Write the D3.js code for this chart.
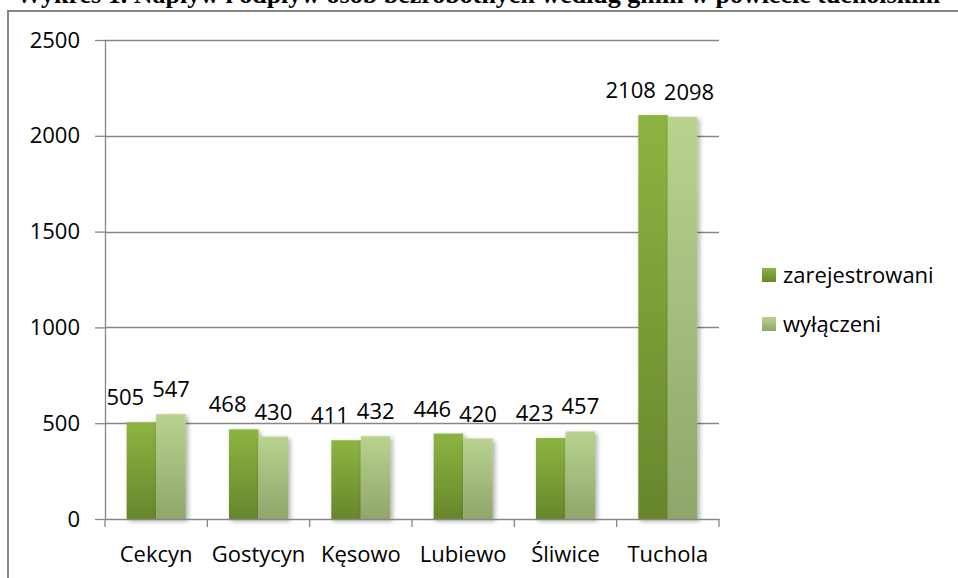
<!DOCTYPE html>
<html>
<head>
<meta charset="utf-8">
<script src="https://cdn.jsdelivr.net/npm/d3@7"></script>
<style>
  body { margin: 0; background: #fff; }
  svg { display: block; }
  text { font-family: "Open Sans", sans-serif; fill: #000; }
</style>
</head>
<body>
<div id="chart"></div>
<script>
const titleText = "Wykres 1. Napływ i odpływ osób bezrobotnych według gmin w powiecie tucholskim";
const gminy = ["Cekcyn", "Gostycyn", "Kęsowo", "Lubiewo", "Śliwice", "Tuchola"];
const series = ["zarejestrowani", "wyłączeni"];
const zarejestrowani = [505, 468, 411, 446, 423, 2108];
const wylaczeni = [547, 430, 432, 420, 457, 2098];
const yTicks = [0, 500, 1000, 1500, 2000, 2500];

const w = 958;
const h = 578;

const rows = gminy.map((g, i) => ({
  gmina: g,
  values: [zarejestrowani[i], wylaczeni[i]]
}));

const svg = d3
  .select("#chart")
  .append("svg")
  .attr("width", w)
  .attr("height", h);

const defs = svg.append("defs");

const grads = [
  ["g0", "#8db441", "#67862c"],
  ["g1", "#b9d38e", "#90a56b"]
];
grads.forEach(([id, top, bottom]) => {
  const lg = defs.append("linearGradient")
    .attr("id", id)
    .attr("x1", 0).attr("y1", 0).attr("x2", 0).attr("y2", 1);
  lg.append("stop").attr("offset", "0%").attr("stop-color", top);
  lg.append("stop").attr("offset", "100%").attr("stop-color", bottom);
});

defs.append("filter")
  .attr("id", "shadow")
  .attr("x", "-20%").attr("y", "-10%")
  .attr("width", "160%").attr("height", "130%")
  .append("feDropShadow")
  .attr("dx", 2).attr("dy", 2)
  .attr("stdDeviation", 2.5)
  .attr("flood-color", "#000")
  .attr("flood-opacity", 0.35);

// title, cut by the top edge as in the source picture
svg.append("text")
  .attr("x", 16)
  .attr("y", 3)
  .style("font-family", "'Liberation Serif', serif")
  .style("font-weight", "bold")
  .style("font-size", "26px")
  .text(titleText);

// outer frame
svg.append("rect")
  .attr("x", 8)
  .attr("y", 11)
  .attr("width", 1000)
  .attr("height", 600)
  .attr("fill", "none")
  .attr("stroke", "#868686")
  .attr("stroke-width", 2);

const y = d3.scaleLinear([0, 2500], [519, 40]);
const x = d3.scaleBand(gminy, [105, 719]);
const x1 = d3.scaleBand(series, [0, x.bandwidth()]).paddingOuter(0.734);

// gridlines
svg.append("g")
  .selectAll("line")
  .data(yTicks.filter((t) => t > 0))
  .join("line")
  .attr("x1", 105)
  .attr("x2", 719)
  .attr("y1", (d) => Math.round(y(d)) + 0.5)
  .attr("y2", (d) => Math.round(y(d)) + 0.5)
  .attr("stroke", "#868686")
  .attr("stroke-width", 1.3);

// y axis
const gy = svg.append("g")
  .attr("transform", "translate(105,0)")
  .call(d3.axisLeft(y).tickValues(yTicks).tickFormat(d3.format("d"))
    .tickSize(10).tickSizeOuter(0).tickPadding(15));
gy.select(".domain").attr("stroke", "#868686").attr("stroke-width", 1.3);
gy.selectAll(".tick line").attr("stroke", "#868686").attr("stroke-width", 1.3);
gy.selectAll(".tick text").style("font-size", "22px").style("font-family", "'Open Sans', sans-serif");

// bars
const groups = svg.append("g")
  .selectAll("g")
  .data(rows)
  .join("g")
  .attr("transform", (d) => `translate(${x(d.gmina)},0)`);

groups.selectAll("rect")
  .data((d) => d.values.map((v, i) => ({ key: series[i], i, v })))
  .join("rect")
  .attr("x", (d) => x1(d.key))
  .attr("y", (d) => y(d.v))
  .attr("width", x1.bandwidth())
  .attr("height", (d) => y(0) - y(d.v))
  .attr("fill", (d) => `url(#g${d.i})`)
  .attr("filter", "url(#shadow)");

// value labels
groups.selectAll("text.val")
  .data((d) => d.values.map((v, i) => ({ key: series[i], i, v })))
  .join("text")
  .attr("class", "val")
  .attr("x", (d) => d.i === 0 ? x1(d.key) + x1.bandwidth() - 12 : x1(d.key) - 4)
  .attr("y", (d) => y(d.v) - 17)
  .attr("text-anchor", (d) => d.i === 0 ? "end" : "start")
  .style("font-size", "22px")
  .text((d) => d.v);

// x axis
const gx = svg.append("g")
  .attr("transform", "translate(0,519)")
  .call(d3.axisBottom(x).tickSize(0).tickPadding(27));
gx.select(".domain").attr("stroke", "#868686").attr("stroke-width", 1.3);
gx.selectAll(".tick text").style("font-size", "22px").style("font-family", "'Open Sans', sans-serif");

const edges = gminy.map((g) => x(g)).concat([x.range()[1]]);
gx.selectAll("line.edge")
  .data(edges)
  .join("line")
  .attr("class", "edge")
  .attr("x1", (d) => d)
  .attr("x2", (d) => d)
  .attr("y1", 0)
  .attr("y2", 8)
  .attr("stroke", "#868686")
  .attr("stroke-width", 1.3);

// legend
const legend = svg.append("g")
  .selectAll("g")
  .data(series)
  .join("g")
  .attr("transform", (d, i) => `translate(762,${268 + i * 49})`);
legend.append("rect")
  .attr("width", 14)
  .attr("height", 14)
  .attr("fill", (d, i) => `url(#g${i})`);
legend.append("text")
  .attr("x", 21)
  .attr("y", 7)
  .attr("dy", "0.35em")
  .style("font-size", "22px")
  .text((d) => d);
</script>
</body>
</html>
